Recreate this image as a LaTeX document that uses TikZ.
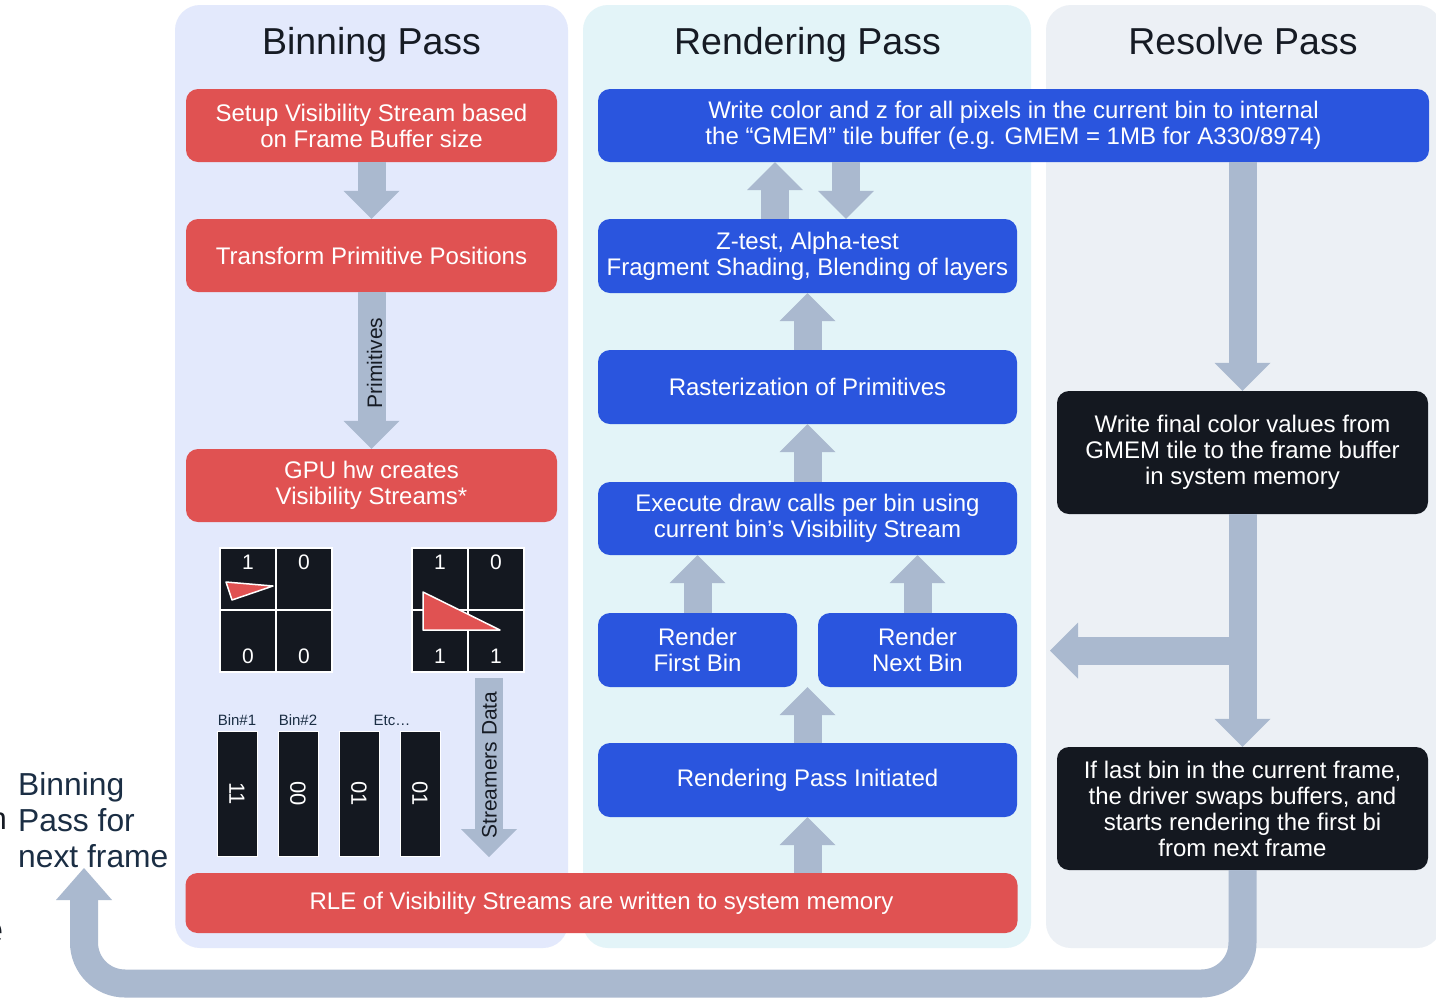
\documentclass[tikz,border=0pt]{standalone}
\usepackage{fontspec}
\setmainfont{Liberation Sans}
\usetikzlibrary{arrows.meta,calc}
\definecolor{binbg}{HTML}{E3E9FC}
\definecolor{renbg}{HTML}{E3F4F8}
\definecolor{resbg}{HTML}{ECF0F5}
\definecolor{redbox}{HTML}{E05252}
\definecolor{bluebox}{HTML}{2A55DE}
\definecolor{blackbox}{HTML}{141820}
\definecolor{arrc}{HTML}{AAB9CF}
\definecolor{darktext}{HTML}{1B2E44}
\definecolor{titletext}{HTML}{161B24}
\begin{document}
\begin{tikzpicture}[x=1pt,y=-1pt,
  panel/.style={fill=#1, rounded corners=25pt},
  box/.style={fill=#1, rounded corners=12pt, text=white, align=center, inner sep=0pt,
    font=\fontsize{24}{26}\selectfont},
  ptitle/.style={text=titletext, inner sep=0pt, anchor=base, font=\fontsize{37.5}{40}\selectfont},
  arr/.style={draw=arrc, line width=28pt, -{Triangle[width=56pt,length=28pt,line width=0pt]}},
  looparr/.style={draw=arrc, line width=28pt, rounded corners=41pt,
    -{Triangle[width=56pt,length=32pt,line width=0pt]}},
  cell/.style={fill=blackbox, draw=white, line width=1.5pt, minimum width=56pt, minimum height=62pt, inner sep=0pt},
  bar/.style={fill=blackbox, draw=white, line width=1pt, minimum width=40pt, minimum height=125pt, inner sep=0pt,
    text=white, font=\fontsize{22}{24}\selectfont},
  num/.style={text=white, inner sep=0pt, font=\fontsize{21}{24}\selectfont},
  binlbl/.style={text=darktext, inner sep=0pt, font=\fontsize{15}{18}\selectfont},
  arrlbl/.style={text=titletext, inner sep=0pt, font=\fontsize{21}{24}\selectfont, rotate=90},
  tri/.style={fill=redbox, draw=white, line width=1.5pt, line join=round}
]
\useasboundingbox (0,0) rectangle (1436,997);
\fill[white] (0,0) rectangle (1436,997);

% panels
\fill[panel=binbg] (175,5) rectangle (568,948);
\fill[panel=renbg] (583,5) rectangle (1031,948);
\fill[panel=resbg] (1046,5) rectangle (1442,948);

\node[ptitle] (tbin) at (371.5,54) {Binning Pass};
\node[ptitle] (tren) at (807.5,54) {Rendering Pass};
\node[ptitle] (tres) at (1243,54) {Resolve Pass};

% binning boxes
\node[box=redbox, minimum width=371pt, minimum height=73pt] (setup) at (371.5,125.5)
  {Setup Visibility Stream based\\on Frame Buffer size};
\node[box=redbox, minimum width=371pt, minimum height=73pt] (transform) at (371.5,255.5)
  {Transform Primitive Positions};
\node[box=redbox, minimum width=371pt, minimum height=73pt] (gpu) at (371.5,485.5)
  {GPU hw creates\\Visibility Streams*};
\node[box=redbox, minimum width=832pt, minimum height=60pt] (rle) at (601.5,903)
  {RLE of Visibility Streams are written to system memory};

% rendering boxes
\node[box=bluebox, minimum width=831pt, minimum height=73pt] (wcolor) at (1013.5,125.5)
  {Write color and z for all pixels in the current bin to internal\\the “GMEM” tile buffer (e.g. GMEM = 1MB for A330/8974)};
\node[box=bluebox, minimum width=419pt, minimum height=74pt] (ztest) at (807.5,256)
  {Z-test, Alpha-test\\Fragment Shading, Blending of layers};
\node[box=bluebox, minimum width=419pt, minimum height=74pt] (raster) at (807.5,387)
  {Rasterization of Primitives};
\node[box=bluebox, minimum width=419pt, minimum height=73pt] (execute) at (807.5,518.5)
  {Execute draw calls per bin using\\current bin’s Visibility Stream};
\node[box=bluebox, minimum width=199pt, minimum height=74pt] (firstbin) at (697.5,650)
  {Render\\First Bin};
\node[box=bluebox, minimum width=199pt, minimum height=74pt] (nextbin) at (917.5,650)
  {Render\\Next Bin};
\node[box=bluebox, minimum width=419pt, minimum height=74pt] (initiated) at (807.5,780)
  {Rendering Pass Initiated};

% resolve boxes
\node[box=blackbox, minimum width=371pt, minimum height=123pt] (wfinal) at (1242.5,452.5)
  {Write final color values from\\GMEM tile to the frame buffer\\in system memory};
\node[box=blackbox, minimum width=371pt, minimum height=123pt] (iflast) at (1242.5,808.5)
  {If last bin in the current frame,\\the driver swaps buffers, and\\starts rendering the first bi\\from next frame};

% arrows in binning pass
\draw[arr] (setup.south) -- (transform.north);
\draw[arr] (transform.south) -- (gpu.north);
\node[arrlbl] (primlbl) at (374.5,363) {Primitives};

% grids
\node[cell] (g1a) at (248,579) {};
\node[cell] (g1b) at (304,579) {};
\node[cell] (g1c) at (248,641) {};
\node[cell] (g1d) at (304,641) {};
\node[num] at (248,562) {1};
\node[num] at (304,562) {0};
\node[num] at (248,656) {0};
\node[num] at (304,656) {0};
\draw[tri] (226,582) -- (273,586) -- (232,600) -- cycle;

\node[cell] (g2a) at (440,579) {};
\node[cell] (g2b) at (496,579) {};
\node[cell] (g2c) at (440,641) {};
\node[cell] (g2d) at (496,641) {};
\node[num] at (440,562) {1};
\node[num] at (496,562) {0};
\draw[tri] (423,592) -- (500,630) -- (423,630) -- cycle;
\node[num] at (440,656) {1};
\node[num] at (496,656) {1};

% bins
\node[binlbl] (b1l) at (237,720) {Bin\#1};
\node[binlbl] (b2l) at (298,720) {Bin\#2};
\node[binlbl] (etcl) at (392,720) {Etc…};
\node[bar] (bar1) at (237,793.5) {\rotatebox{-90}{11}};
\node[bar] (bar2) at (298,793.5) {\rotatebox{-90}{00}};
\node[bar] (bar3) at (359,793.5) {\rotatebox{-90}{01}};
\node[bar] (bar4) at (420,793.5) {\rotatebox{-90}{01}};

\coordinate (sdtop) at (489,678);
\coordinate (sdtip) at (489,857);
\draw[arr] (sdtop) -- (sdtip);
\node[arrlbl] (sdlbl) at (489.5,765) {Streamers Data};

% arrows in rendering pass
\draw[arr] ([xshift=-32.5pt]ztest.north) -- ([xshift=-32.5pt]ztest.north |- wcolor.south);
\draw[arr] ([xshift=38.5pt]ztest.north |- wcolor.south) -- ([xshift=38.5pt]ztest.north);
\draw[arr] (raster.north) -- (ztest.south);
\draw[arr] (execute.north) -- (raster.south);
\draw[arr] (firstbin.north) -- (firstbin.north |- execute.south);
\draw[arr] (nextbin.north) -- (nextbin.north |- execute.south);
\draw[arr] (initiated.north) -- (initiated.north |- firstbin.south);
\draw[arr] (rle.north -| initiated.south) -- (initiated.south);

% resolve arrows
\draw[arr] (wcolor.south -| wfinal.north) -- (wfinal.north);
\coordinate (branch) at (1242.5,650.5);
\coordinate (branchtip) at (1050,650.5);
\draw[arr] (branch) -- (branchtip);
\draw[arr] (wfinal.south) -- (iflast.north);

% loop back to next frame
\coordinate (loopc) at (84,983.5);
\coordinate (looptip) at (84,868);
\draw[looparr] (iflast.south) -- (iflast.south |- loopc) -- (loopc) -- (looptip);

% left text
\node[anchor=west, align=left, inner sep=0pt, text=darktext, font=\fontsize{31.8}{36}\selectfont] (nextlbl) at (18,820)
  {Binning\\Pass for\\next frame};
\node[anchor=base east, inner sep=0pt, text=titletext, font=\fontsize{31}{36}\selectfont] (clipn) at (7,829) {n};
\node[anchor=base east, inner sep=0pt, text=titletext, font=\fontsize{40}{44}\selectfont] (clipe) at (4,943) {e};
\end{tikzpicture}
\end{document}
